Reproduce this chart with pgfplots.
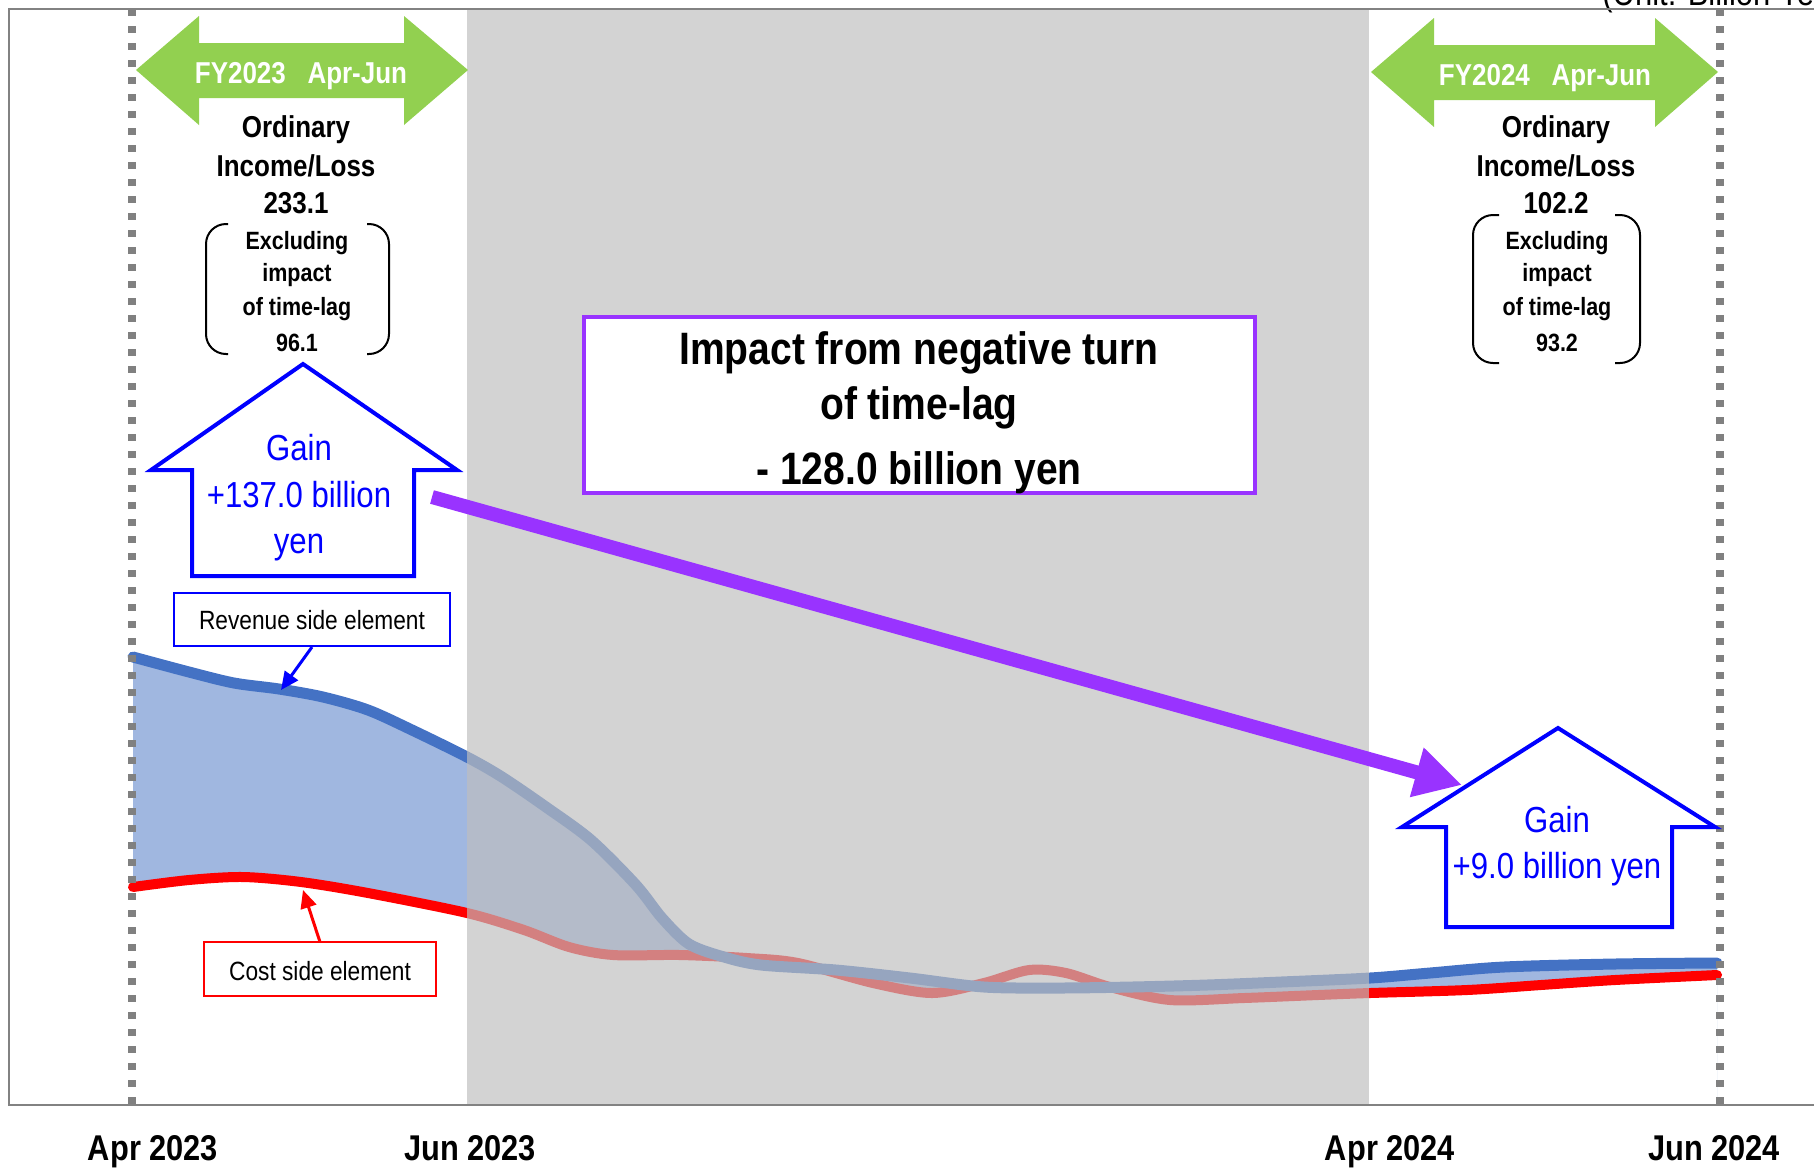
\documentclass[border=0pt]{standalone}
\usepackage{fontspec}
\setmainfont{Liberation Sans}[FakeStretch=0.86]
\usepackage{pgfplots}
\usepackage{pgfplotstable}
\pgfplotsset{compat=1.18}
\usetikzlibrary{arrows.meta}

\definecolor{frameg}{RGB}{130,130,130}
\definecolor{dotg}{RGB}{128,128,128}
\definecolor{bandgray}{RGB}{190,190,190}
\definecolor{gband}{RGB}{146,208,80}
\definecolor{revline}{RGB}{68,114,196}
\definecolor{revfill}{RGB}{160,183,224}
\definecolor{costline}{RGB}{255,0,0}
\definecolor{impact}{RGB}{153,51,255}
\definecolor{gainblue}{RGB}{0,0,255}

\newcommand\fs[1]{\fontsize{#1}{#1}\selectfont}
\tikzset{lbl/.style={anchor=base, inner sep=0pt}}

% revenue side and cost side elements (x along the period, y downwards)
\pgfplotstableread{
x y
133 657
189 672
234 683
279 689
323 697
368 710
412 730
467 757
502 777
546 807
591 840
636 885
662 918
689 944
724 957
761 965
836 970
910 978
984 987
1058 988
1132 987
1207 985
1281 982
1370 978
1430 973
1504 967
1615 964
1717 963
}\revtab

\pgfplotstableread{
x y
133 887
189 880
243 877
301 882
368 893
467 913
524 930
569 947
613 955
680 955
747 958
798 963
873 983
932 993
984 983
1029 970
1066 973
1110 987
1170 1000
1244 998
1318 995
1370 993
1467 990
1541 985
1615 980
1717 975
}\costtab

\begin{document}
\begin{tikzpicture}
\begin{axis}[
  at={(459.75pt,305.5pt)}, anchor=center,
  scale only axis, width=910.5pt, height=548pt,
  xmin=9, xmax=1830, ymin=9, ymax=1105, y dir=reverse,
  axis line style={draw=frameg, line width=1pt},
  xtick={153,470,1390,1714},
  xticklabels={Apr 2023, Jun 2023, Apr 2024, Jun 2024},
  ytick=\empty, major tick length=0pt, tick style={draw=none},
  xticklabel style={font=\bfseries\fs{17.9pt}, anchor=base, yshift=-27.5pt, inner sep=0pt},
  clip=false, axis on top,
]
% band between the two elements: area under revenue, minus area under cost
\addplot[draw=none, fill=revfill, smooth] table {\revtab} -- (1717,1105) -- (133,1105) -- cycle;
\addplot[draw=none, fill=white, smooth] table {\costtab} -- (1717,1105) -- (133,1105) -- cycle;
\addplot[draw=costline, line width=5pt, line cap=round, smooth] table {\costtab};
\addplot[draw=revline, line width=5.5pt, line cap=round, smooth] table {\revtab};

% period between the two quarters
\fill[bandgray, fill opacity=0.674] (467,9) rectangle (1369,1105);

% quarter boundaries
\draw[dotg, line width=4pt, dash pattern=on 3.5pt off 5pt] (132,9) -- (132,1105);
\draw[dotg, line width=4pt, dash pattern=on 3.5pt off 5pt] (1720,9) -- (1720,1105);

% quarter banners
\fill[gband] (136,70) -- (199,16) -- (199,43) -- (404,43) -- (404,16) -- (468,70)
  -- (404,125) -- (404,98) -- (199,98) -- (199,125) -- cycle;
\fill[gband] (1371,72) -- (1434,18) -- (1434,45) -- (1655,45) -- (1655,18) -- (1718,72)
  -- (1655,127) -- (1655,100) -- (1434,100) -- (1434,127) -- cycle;
\node[lbl, white, font=\bfseries\fs{15.1pt}] at (301,83) {FY2023\ \ \ Apr-Jun};
\node[lbl, white, font=\bfseries\fs{15.1pt}] at (1545,85) {FY2024\ \ \ Apr-Jun};

% ordinary income blocks
\node[lbl, font=\bfseries\fs{15.1pt}] at (296,137) {Ordinary};
\node[lbl, font=\bfseries\fs{15.1pt}] at (296,176) {Income/Loss};
\node[lbl, font=\bfseries\fs{15.1pt}] at (296,213) {233.1};
\node[lbl, font=\bfseries\fs{12.5pt}] at (297,249) {Excluding};
\node[lbl, font=\bfseries\fs{12.5pt}] at (297,281) {impact};
\node[lbl, font=\bfseries\fs{12.5pt}] at (297,315) {of time-lag};
\node[lbl, font=\bfseries\fs{12.5pt}] at (297,351) {96.1};
\draw[line width=1pt, rounded corners=10pt] (228,224) -- (206,224) -- (206,354) -- (228,354);
\draw[line width=1pt, rounded corners=10pt] (367,224) -- (389,224) -- (389,354) -- (367,354);

\node[lbl, font=\bfseries\fs{15.1pt}] at (1556,137) {Ordinary};
\node[lbl, font=\bfseries\fs{15.1pt}] at (1556,176) {Income/Loss};
\node[lbl, font=\bfseries\fs{15.1pt}] at (1556,213) {102.2};
\node[lbl, font=\bfseries\fs{12.5pt}] at (1557,249) {Excluding};
\node[lbl, font=\bfseries\fs{12.5pt}] at (1557,281) {impact};
\node[lbl, font=\bfseries\fs{12.5pt}] at (1557,315) {of time-lag};
\node[lbl, font=\bfseries\fs{12.5pt}] at (1557,351) {93.2};
\draw[line width=1pt, rounded corners=10pt] (1499,215) -- (1473,215) -- (1473,363) -- (1499,363);
\draw[line width=1pt, rounded corners=10pt] (1615,215) -- (1640,215) -- (1640,363) -- (1615,363);

% gain arrows
\draw[gainblue, line width=2pt, fill=white] (303,364) -- (457,470) -- (414,470) -- (414,576)
  -- (192,576) -- (192,470) -- (151,470) -- cycle;
\node[lbl, gainblue, font=\fs{18.1pt}] at (299,460) {Gain};
\node[lbl, gainblue, font=\fs{18.1pt}] at (299,507) {+137.0 billion};
\node[lbl, gainblue, font=\fs{18.1pt}] at (299,553) {yen};

\draw[gainblue, line width=2pt, fill=white] (1558,728) -- (1715,827) -- (1672,827) -- (1672,927)
  -- (1446,927) -- (1446,827) -- (1402,827) -- cycle;
\node[lbl, gainblue, font=\fs{18.1pt}] at (1557,832) {Gain};
\node[lbl, gainblue, font=\fs{18.1pt}] at (1557,878) {+9.0 billion yen};

% element call-outs
\draw[gainblue, line width=1pt, fill=white] (174,593) rectangle (450,646);
\node[lbl, font=\fs{13.2pt}] at (312,629) {Revenue side element};
\draw[gainblue, line width=1.5pt, -{Triangle[length=9pt,width=8pt]}] (312,647) -- (281,690);

\draw[costline, line width=1pt, fill=white] (204,942) rectangle (436,996);
\node[lbl, font=\fs{13.2pt}] at (320,980) {Cost side element};
\draw[costline, line width=1.5pt, -{Triangle[length=9pt,width=8pt]}] (320,942) -- (303,890);

% time-lag impact
\draw[impact, line width=2pt, fill=white] (584,317) rectangle (1255,493);
\node[lbl, font=\bfseries\fs{22.7pt}] at (919,364) {Impact from negative turn};
\node[lbl, font=\bfseries\fs{22.7pt}] at (919,419) {of time-lag};
\node[lbl, font=\bfseries\fs{22.7pt}] at (919,484) {- 128.0 billion yen};
\draw[impact, line width=7pt, -{Triangle[length=23.5pt,width=24pt]}] (432,497) -- (1462,785);

\node[anchor=base west, inner sep=0pt, font=\fs{18pt}] at (1602,5) {(Unit: Billion Yen)};
\end{axis}
\pgfresetboundingbox
\path[use as bounding box] (0,0) rectangle (907pt,584pt);
\end{tikzpicture}
\end{document}
